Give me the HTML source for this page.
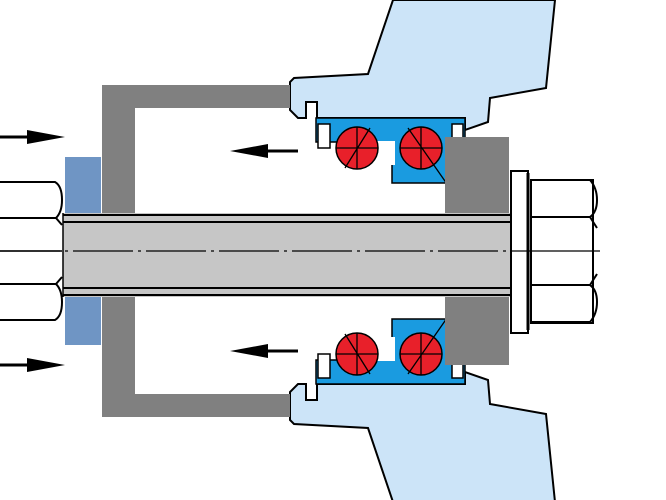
<!DOCTYPE html>
<html><head><style>html,body{margin:0;padding:0;background:#fff}svg{display:block}</style></head>
<body>
<svg width="666" height="500" viewBox="0 0 666 500" xmlns="http://www.w3.org/2000/svg">
<defs>
<g id="half">
  <path d="M393,0 L555,0 L546,88 L490,98 L488,122 L465,130 L465,118 L317,118 L317,102 L306,102 L306,118 L298,118 L290,110 L290,82 L294,78 L368,74 Z" fill="#cce4f8" stroke="#000" stroke-width="2"/>
  <path d="M316,118 L465,118 L465,183 L392,183 L392,160 L380,160 L380,142 L316,142 Z" fill="#1a9be0" stroke="#000" stroke-width="1.5"/>
  <rect x="318" y="124" width="12" height="24" fill="#fff" stroke="#000" stroke-width="1.5"/>
  <rect x="452" y="124" width="11" height="24" fill="#fff" stroke="#000" stroke-width="1.5"/>
  <rect x="377" y="141" width="18" height="24" fill="#fff"/>
  <circle cx="357" cy="148" r="21" fill="#e8202a" stroke="#000" stroke-width="1.5"/>
  <circle cx="421" cy="148" r="21" fill="#e8202a" stroke="#000" stroke-width="1.5"/>
  <path d="M345,168 L370,128 M357,127 V169 M336,148 H378 M408,128 L447,184 M421,127 V169 M400,148 H442" stroke="#000" stroke-width="1.3"/>
  <path d="M102,85 L290,85 L290,108 L135,108 L135,215 L102,215 Z" fill="#808080"/>
  <rect x="445" y="137" width="64" height="78" fill="#808080"/>
  <rect x="65" y="157" width="36" height="56" fill="#6f95c4"/>
  <path d="M0,137 H30" stroke="#000" stroke-width="3"/>
  <path d="M27,130 L65,137 L27,144 Z" fill="#000"/>
  <path d="M268,151 H298" stroke="#000" stroke-width="3"/>
  <path d="M268,144 L230,151 L268,158 Z" fill="#000"/>
  <path d="M0,182 H55 Q62,186 62,200 Q62,212 56,218 H0" fill="none" stroke="#000" stroke-width="2"/>
  <path d="M0,218 H56 L62,225" fill="none" stroke="#000" stroke-width="2"/>
  <path d="M531,180 H590 Q597,188 597,200 Q597,212 590,217 H531 M590,217 L597,228" fill="none" stroke="#000" stroke-width="2"/>
</g>
</defs>
<use href="#half"/>
<use href="#half" transform="translate(0,502) scale(1,-1)"/>
<rect x="63" y="213" width="449" height="84" fill="#c6c6c6"/>
<path d="M63,215 H512 M63,222 H512 M63,288 H512 M63,295 H512" stroke="#000" stroke-width="2"/>
<path d="M63,213 V297" stroke="#000" stroke-width="1.5"/>
<path d="M0,251 H515" stroke="#000" stroke-width="1.3" stroke-dasharray="60,5,3,5"/>
<path d="M0,251 H62" stroke="#000" stroke-width="1.5"/>
<rect x="511" y="171" width="17" height="162" fill="#fff" stroke="#000" stroke-width="2"/>
<path d="M528,173 V330" stroke="#000" stroke-width="3"/>
<rect x="531" y="180" width="62" height="143" fill="none" stroke="#000" stroke-width="2"/>
<path d="M512,251 H600" stroke="#000" stroke-width="1.3"/>
</svg>
</body></html>
